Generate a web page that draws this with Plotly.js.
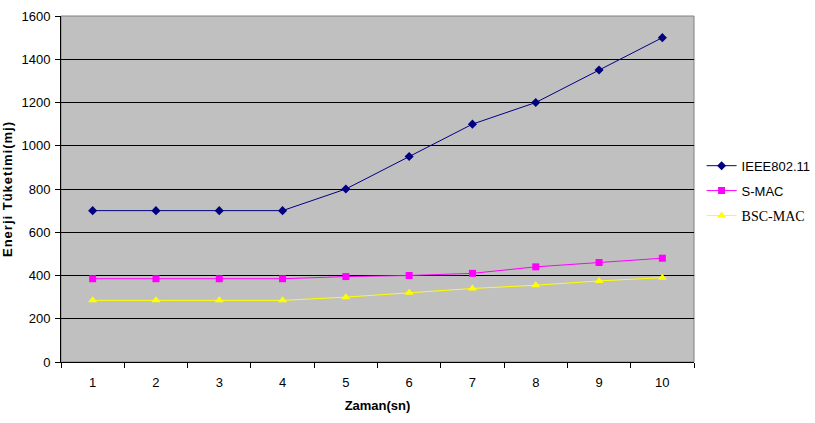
<!DOCTYPE html>
<html><head><meta charset="utf-8">
<script src="https://cdn.plot.ly/plotly-3.0.1.min.js"></script>
<style>html,body{margin:0;padding:0;background:#fff}</style>
</head><body>
<div id="chart" style="width:815px;height:423px"></div>
<script>
const categories = ['1','2','3','4','5','6','7','8','9','10'];
const ieee = [700,700,700,700,800,950,1100,1200,1350,1500];
const smac = [385,385,385,385,395,400,410,440,460,480];
const bscmac = [285,285,285,285,300,320,340,355,375,390];
const yTicks = [0,200,400,600,800,1000,1200,1400,1600];

const data = [
  {x:categories, y:ieee, name:'IEEE802.11', legendgroup:'a', type:'scatter', mode:'lines+markers',
   line:{color:'#000080', width:1}, marker:{symbol:'diamond', size:7, color:'#000080'}},
  {x:categories, y:smac, name:'S-MAC', legendgroup:'b', type:'scatter', mode:'lines+markers',
   line:{color:'#FF00FF', width:1}, marker:{symbol:'square', size:7, color:'#FF00FF'}},
  {x:categories, y:bscmac, name:'<span style="font-family:\'Liberation Serif\',serif;font-size:14px">BSC-MAC</span>', legendgroup:'c', type:'scatter', mode:'lines+markers',
   line:{color:'#FFFF00', width:1}, marker:{symbol:'triangle-up', size:8, color:'#FFFF00'}}
];

const layout = {
  width:815, height:423,
  margin:{l:61, r:121, t:16, b:61, autoexpand:false},
  paper_bgcolor:'#ffffff', plot_bgcolor:'#C0C0C0',
  font:{family:'Liberation Sans, Arial, sans-serif', size:12, color:'#000'},
  showlegend:true,
  legend:{x:1.012, xanchor:'left', y:0.495, yanchor:'middle', bgcolor:'rgba(0,0,0,0)',
          font:{size:13}, itemwidth:30, tracegroupgap:5},
  xaxis:{type:'category', tickson:'boundaries', ticks:'outside', ticklen:5, tickcolor:'#000',
         showgrid:false, showline:true, linecolor:'#000', linewidth:1, zeroline:false,
         range:[-0.5,9.5], ticklabelstandoff:8, automargin:false, tickfont:{size:13},
         title:{text:'<b>Zaman(sn)</b>', font:{size:13}, standoff:12}},
  yaxis:{range:[0,1600], tickvals:yTicks, ticks:'outside', ticklen:5, tickcolor:'#000',
         showgrid:true, gridcolor:'#000', gridwidth:1, showline:true, linecolor:'#000',
         linewidth:1, zeroline:false, ticklabelstandoff:2, automargin:false, tickfont:{size:13},
         title:{text:'<b><span style="letter-spacing:1px">Enerji Tüketimi(mj)</span></b>', font:{size:13}, standoff:12}},
  shapes:[{type:'rect', xref:'paper', yref:'paper', x0:0, x1:1, y0:0, y1:1,
           line:{color:'#808080', width:1}, layer:'below'}]
};
Plotly.newPlot('chart', data, layout, {displayModeBar:false, staticPlot:true});
</script>
</body></html>
